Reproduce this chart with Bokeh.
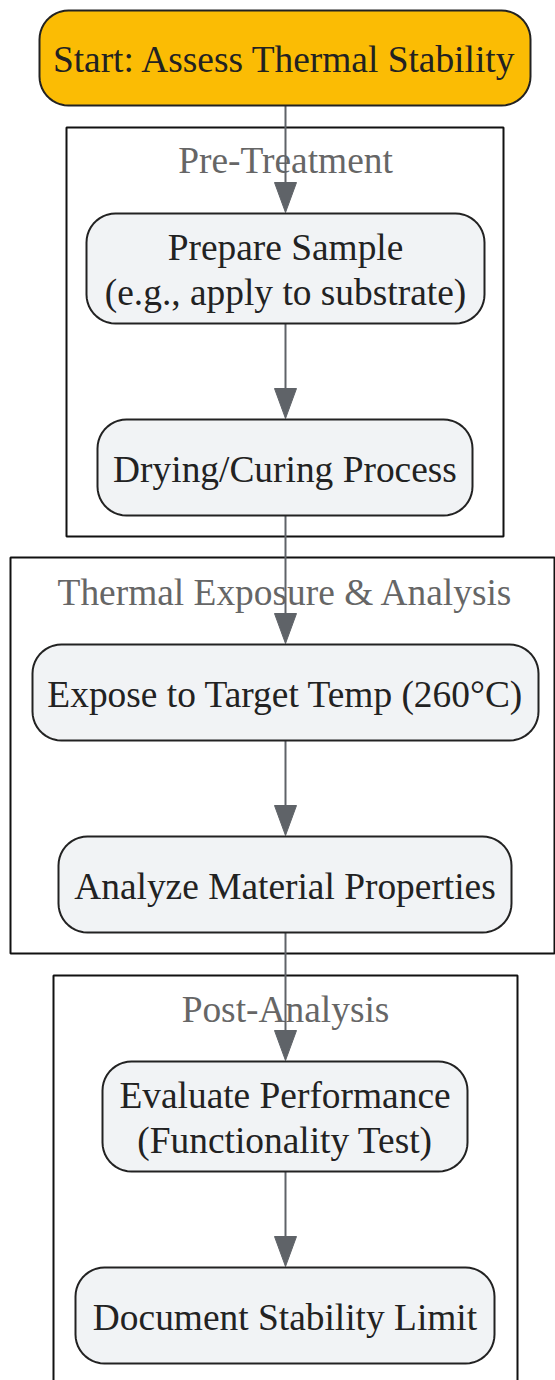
import numpy as np
from bokeh.plotting import figure
from bokeh.models import Range1d
from bokeh.core.properties import value
from bokeh.embed import file_html
from bokeh.resources import INLINE

# ---- content ----
node_labels = [
    "Start: Assess Thermal Stability",
    "Prepare Sample\n(e.g., apply to substrate)",
    "Drying/Curing Process",
    "Expose to Target Temp (260°C)",
    "Analyze Material Properties",
    "Evaluate Performance\n(Functionality Test)",
    "Document Stability Limit",
]
cluster_titles = ["Pre-Treatment", "Thermal Exposure & Analysis", "Post-Analysis"]
edges = [(0, 1), (1, 2), (2, 3), (3, 4), (4, 5), (5, 6)]

# ---- layout (page pixel coordinates: left, right, top, bottom) ----
node_boxes = [
    (39, 530, 10, 105),
    (86, 484, 213, 323),
    (97, 472, 419, 515),
    (32, 538, 644, 740),
    (58, 511, 836, 932),
    (102, 467, 1061, 1171),
    (75, 494, 1267, 1363),
]
cluster_boxes = [
    (66, 503, 127, 536),
    (10, 554, 557, 953),
    (53, 517, 975, 1392),
]
cluster_title_y = [160, 592, 1009]
CX = 285
LINE_GAP = 45
TEXT_DY = 1.5

FONT = "Liberation Serif"
FS = "37.4px"
W, H = 555, 1380
p = figure(width=W, height=H, output_backend="svg", toolbar_location=None,
           x_range=Range1d(0, W), y_range=Range1d(H, 0),
           min_border=0)
p.axis.visible = False
p.grid.visible = False
p.outline_line_color = None
p.background_fill_color = "white"


def rrect(l, r, t, b, rad, n=12):
    xs, ys = [], []
    corners = [(r - rad, t + rad, -np.pi / 2, 0), (r - rad, b - rad, 0, np.pi / 2),
               (l + rad, b - rad, np.pi / 2, np.pi), (l + rad, t + rad, np.pi, 1.5 * np.pi)]
    for cx, cy, a0, a1 in corners:
        a = np.linspace(a0, a1, n)
        xs.extend(cx + rad * np.cos(a))
        ys.extend(cy + rad * np.sin(a))
    return xs, ys

# clusters
p.quad(left=[c[0] for c in cluster_boxes], right=[c[1] for c in cluster_boxes],
       top=[c[2] for c in cluster_boxes], bottom=[c[3] for c in cluster_boxes],
       fill_color="white", line_color="#111111", line_width=2)
p.text(x=[CX] * 3, y=cluster_title_y, text=cluster_titles,
       text_font=value(FONT), text_font_size=FS, text_color="#666666",
       text_align="center", text_baseline="middle")

# edges
ex0, ey0, ex1, ey1 = [], [], [], []
hx, hy = [], []
for s, t in edges:
    y0 = node_boxes[s][3]
    y1 = node_boxes[t][2]
    ex0.append(CX); ey0.append(y0); ex1.append(CX); ey1.append(y1 - 20)
    hx.append([CX - 11, CX + 11, CX])
    hy.append([y1 - 31, y1 - 31, y1 - 1])
p.segment(x0=ex0, y0=ey0, x1=ex1, y1=ey1, line_color="#5f6368", line_width=2)
p.patches(xs=hx, ys=hy, fill_color="#5f6368", line_color="#5f6368", line_width=1)

# nodes
nxs, nys, fills = [], [], []
for i, (l, r, t, b) in enumerate(node_boxes):
    xs, ys = rrect(l, r, t, b, 29)
    nxs.append(xs); nys.append(ys)
    fills.append("#FBBC04" if i == 0 else "#F1F3F5")
p.patches(xs=nxs, ys=nys, fill_color=fills, line_color="#222222", line_width=2)

tx, ty, tt = [], [], []
for lab, b in zip(node_labels, node_boxes):
    lines = lab.split("\n")
    cx = (b[0] + b[1]) / 2
    cy = (b[2] + b[3]) / 2 + TEXT_DY
    n = len(lines)
    for k, ln in enumerate(lines):
        tx.append(cx)
        ty.append(cy + (k - (n - 1) / 2) * LINE_GAP)
        tt.append(ln)
p.text(x=tx, y=ty, text=tt, text_font=value(FONT), text_font_size=FS,
       text_color="#222222", text_align="center", text_baseline="middle")

open("out.html", "w").write(file_html(p, INLINE))
